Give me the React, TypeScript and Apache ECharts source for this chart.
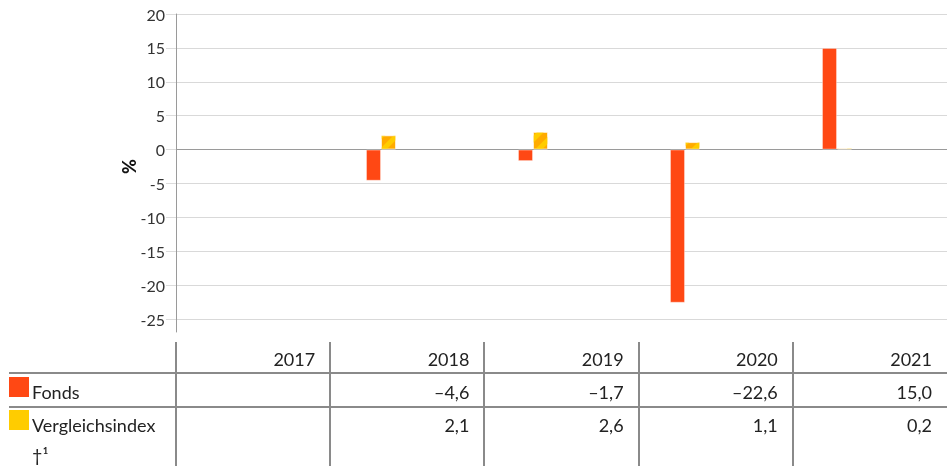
import React, { useEffect, useRef } from "react";
import * as echarts from "echarts";

const years = ["2017", "2018", "2019", "2020", "2021"];
const fondsValues: (number | null)[] = [null, -4.6, -1.7, -22.6, 15.0];
const indexValues: (number | null)[] = [null, 2.1, 2.6, 1.1, 0.2];
const seriesNames = ["Fonds", "Vergleichsindex"];
const indexFootnote = "†¹";

const RED = "#ff4814";
const YELLOW = "#ffcc00";
const ORANGE = "#ffab00";
const FONT = "Lato, 'Noto Sans', sans-serif";
const TEXT = "#222";
const LINE = "#8a8a8a";

const fmt = (v: number | null) =>
  v == null ? "" : v.toFixed(1).replace(".", ",").replace("-", "–");

export default function App() {
  const ref = useRef<HTMLDivElement>(null);
  useEffect(() => {
    document.body.style.margin = "0";
    const chart = echarts.init(ref.current!, null, { renderer: "svg" });

    const W = 947;
    const tableLeft = 176;
    const colW = (W - tableLeft) / years.length;
    const graphic: any[] = [];
    [373, 407].forEach((y) =>
      graphic.push({
        type: "line",
        shape: { x1: 9, y1: y, x2: W, y2: y },
        style: { stroke: LINE, lineWidth: 2 },
      })
    );
    for (let k = 0; k < years.length; k++) {
      const x = Math.round(tableLeft + colW * k);
      graphic.push({
        type: "line",
        shape: { x1: x, y1: 342, x2: x, y2: 466 },
        style: { stroke: LINE, lineWidth: 2 },
      });
    }
    const txt = (text: string, x: number, y: number, align: string) => ({
      type: "text",
      x,
      y,
      style: {
        text,
        fill: TEXT,
        font: `18px ${FONT}`,
        fontSize: 18,
        fontFamily: FONT,
        align,
        verticalAlign: "middle",
        textAlign: align,
        textVerticalAlign: "middle",
      },
    });
    years.forEach((yr, i) => {
      const right = tableLeft + colW * (i + 1) - 15;
      graphic.push(txt(yr, right, 359, "right"));
      graphic.push(txt(fmt(fondsValues[i]), right, 392, "right"));
      graphic.push(txt(fmt(indexValues[i]), right, 425, "right"));
    });
    graphic.push({ type: "rect", shape: { x: 9, y: 377, width: 20, height: 20 }, style: { fill: RED } });
    graphic.push({ type: "rect", shape: { x: 9, y: 410, width: 20, height: 20 }, style: { fill: YELLOW } });
    graphic.push(txt(seriesNames[0], 32, 392, "left"));
    graphic.push(txt(seriesNames[1], 32, 425, "left"));
    graphic.push(txt(indexFootnote, 32, 455, "left"));

    const hiddenCat = (gridIndex: number, extra: any = {}) => ({
      type: "category",
      gridIndex,
      data: years,
      axisLabel: { show: false },
      axisTick: { show: false },
      axisLine: { show: false },
      splitLine: { show: false },
      ...extra,
    });

    chart.setOption({
      animation: false,
      grid: [
        { left: 176, right: 0, top: 14, height: 318 },
        { left: 176, right: 0, top: 14, height: 305 },
        { left: 153, right: 34, top: 14, height: 305 },
      ],
      xAxis: [
        hiddenCat(0),
        hiddenCat(1, {
          axisLine: { show: true, onZero: true, lineStyle: { color: "#9a9a9a", width: 1 } },
        }),
        hiddenCat(2),
      ],
      yAxis: [
        {
          type: "value",
          gridIndex: 0,
          min: -27,
          max: 20,
          axisLine: { show: true, lineStyle: { color: "#9a9a9a", width: 1 } },
          axisLabel: { show: false },
          axisTick: { show: false },
          splitLine: { show: false },
        },
        {
          type: "value",
          gridIndex: 1,
          min: -25,
          max: 20,
          interval: 5,
          name: "%",
          nameLocation: "middle",
          nameGap: 38,
          nameMoveOverlap: false,
          nameTextStyle: { color: "#111", fontSize: 18, fontWeight: 900, fontFamily: FONT },
          axisLine: { show: false },
          axisTick: { show: true, length: 10, lineStyle: { color: "#dcdcdc" } },
          axisLabel: { color: "#333", fontSize: 16, fontFamily: FONT, margin: 11 },
          splitLine: { show: true, lineStyle: { color: "#d9d9d9", width: 1 } },
        },
        {
          type: "value",
          gridIndex: 2,
          min: -25,
          max: 20,
          show: false,
          splitLine: { show: false },
        },
      ],
      series: [
        {
          name: seriesNames[0],
          type: "bar",
          xAxisIndex: 2,
          yAxisIndex: 2,
          data: fondsValues,
          barWidth: 15,
          barGap: "0%",
          itemStyle: { color: RED, borderColor: "rgba(255,255,255,0.35)", borderWidth: 1 },
        },
        {
          name: seriesNames[1],
          type: "bar",
          xAxisIndex: 2,
          yAxisIndex: 2,
          data: indexValues,
          barWidth: 15,
          barGap: "0%",
          itemStyle: {
            color: ORANGE,
            borderColor: "rgba(255,255,255,0.35)",
            borderWidth: 1,
            decal: {
              symbol: "rect",
              color: YELLOW,
              dashArrayX: [1, 0],
              dashArrayY: [5, 6],
              rotation: -Math.PI / 4,
              symbolSize: 1,
            },
          },
        },
      ],
      graphic,
    });
    return () => chart.dispose();
  }, []);
  return (
    <div
      ref={ref}
      style={{ position: "fixed", left: 0, top: 0, width: 947, height: 466 }}
    />
  );
}
